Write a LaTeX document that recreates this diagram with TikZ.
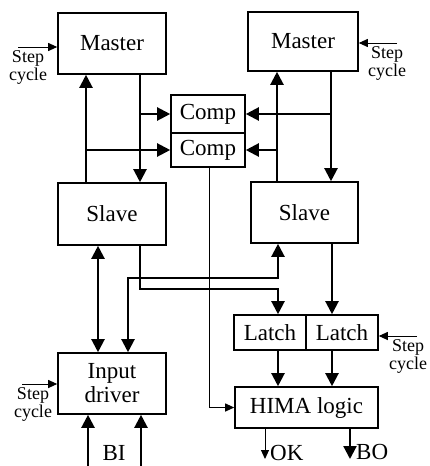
\documentclass[tikz,border=0pt]{standalone}
\usepackage{fontspec}
\setmainfont{Liberation Serif}
\usetikzlibrary{arrows.meta}
\begin{document}
\begin{tikzpicture}[x=1pt,y=-1pt,
  box/.style={draw,line width=1.6pt,inner sep=0pt,align=center,font=\fontsize{23}{24}\selectfont},
  bus/.style={line width=2.2pt},
  wire/.style={line width=1pt},
  bigtip/.style={-{Triangle[length=13pt,width=13pt]}},
  bigboth/.style={{Triangle[length=13pt,width=13pt]}-{Triangle[length=13pt,width=13pt]}},
  smalltip/.style={-{Triangle[length=9pt,width=8pt]}},
  lbl/.style={inner sep=0pt,align=center,font=\fontsize{18}{18}\selectfont},
  io/.style={inner sep=0pt,font=\fontsize{23}{24}\selectfont}
]
\useasboundingbox (0,0) rectangle (429,466);

% boxes
\node[box,minimum width=108pt,minimum height=61pt] (lm) at (112,43.5) {Master};
\node[box,minimum width=110pt,minimum height=59pt] (rm) at (303,41.5) {Master};
\node[box,minimum width=108pt,minimum height=62pt] (ls) at (112,214) {Slave};
\node[box,minimum width=107pt,minimum height=61pt] (rs) at (304.5,212.5) {Slave};
\node[box,minimum width=74pt,minimum height=38pt] (c1) at (208,114) {Comp};
\node[box,minimum width=74pt,minimum height=34pt] (c2) at (208,150) {Comp};
\node[box,minimum width=108pt,minimum height=61pt] (in) at (112,383.5) {Input\\driver};
\node[box,minimum width=72pt,minimum height=35pt] (ll) at (270,332.5) {Latch};
\node[box,minimum width=72pt,minimum height=35pt] (lr) at (342,332.5) {Latch};
\node[box,minimum width=143pt,minimum height=41pt] (hm) at (306.5,407.5) {HIMA logic};

% column / row helpers
\coordinate (cA) at (86,0);
\coordinate (cB) at (140,0);
\coordinate (cC) at (277,0);
\coordinate (cD) at (331,0);
\coordinate (cE) at (98,0);
\coordinate (cF) at (128,0);
\coordinate (cG) at (278,0);
\coordinate (cH) at (332,0);
\coordinate (cI) at (209,0);
\coordinate (cOK) at (265,0);
\coordinate (cBO) at (350,0);
\coordinate (cBIa) at (88,0);
\coordinate (cBIb) at (141,0);
\coordinate (j1) at (0,278);
\coordinate (j2) at (0,289);
\coordinate (ybot) at (0,459);
\coordinate (yend) at (0,466);

% master/slave/comp
\draw[bus,bigtip] (ls.north -| cA) -- (lm.south -| cA);
\draw[bus,bigtip] (lm.south -| cB) -- (ls.north -| cB);
\draw[bus,bigtip] (c1.west -| cB) -- (c1.west);
\draw[bus,bigtip] (c2.west -| cA) -- (c2.west);
\draw[bus,bigtip] (rs.north -| cC) -- (rm.south -| cC);
\draw[bus,bigtip] (rm.south -| cD) -- (rs.north -| cD);
\draw[bus,bigtip] (c1.east -| cD) -- (c1.east);
\draw[bus,bigtip] (c2.east -| cC) -- (c2.east);

% slave / input / latch
\draw[bus,bigboth] (ls.south -| cE) -- (in.north -| cE);
\draw[bus,bigboth] (in.north -| cF) -- (j1 -| cF) -- (j1 -| cG) -- (rs.south -| cG);
\draw[bus,bigtip] (ls.south -| cB) -- (j2 -| cB) -- (j2 -| cG) -- (ll.north -| cG);
\draw[bus,bigtip] (rs.south -| cH) -- (lr.north -| cH);
\draw[bus,bigtip] (ll.south -| cG) -- (hm.north -| cG);
\draw[bus,bigtip] (lr.south -| cH) -- (hm.north -| cH);
\draw[wire,smalltip] (c2.south -| cI) |- (hm.west);

% outputs
\draw[wire,smalltip] (hm.south -| cOK) -- (ybot -| cOK);
\draw[bus,bigtip] (hm.south -| cBO) -- (ybot -| cBO);
\node[io,anchor=base west] (ok) at (270,460) {OK};
\node[io,anchor=base west] (bo) at (356,459) {BO};

% inputs
\draw[bus,bigtip] (yend -| cBIa) -- (in.south -| cBIa);
\draw[bus,bigtip] (yend -| cBIb) -- (in.south -| cBIb);
\node[io,anchor=base] (bi) at (114,460) {BI};

% step cycle
\coordinate (s1) at (18,47);
\coordinate (s2) at (22,384);
\coordinate (s3) at (397,43);
\coordinate (s4) at (417,336);
\draw[wire,smalltip] (s1) -- (lm.west |- s1);
\draw[wire,smalltip] (s2) -- (in.west |- s2);
\draw[wire,smalltip] (s3) -- (rm.east |- s3);
\draw[wire,smalltip] (s4) -- (lr.east |- s4);
\node[lbl,anchor=north] (t1) at (28,50) {Step\\cycle};
\node[lbl,anchor=north] (t2) at (33,387) {Step\\cycle};
\node[lbl,anchor=north] (t3) at (387,46) {Step\\cycle};
\node[lbl,anchor=north] (t4) at (408,339) {Step\\cycle};
\end{tikzpicture}
\end{document}
